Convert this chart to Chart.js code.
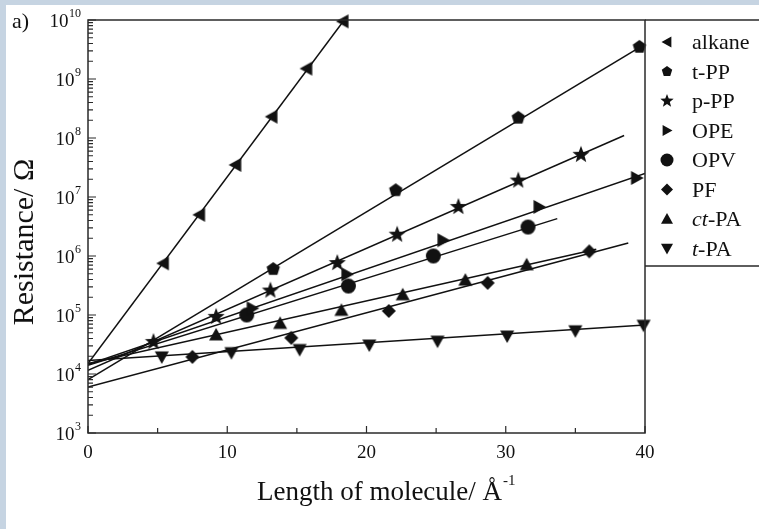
<!DOCTYPE html>
<html>
<head>
<meta charset="utf-8">
<script src="https://cdn.jsdelivr.net/npm/chart.js@4.4.1/dist/chart.umd.min.js"></script>
<style>
  html, body { margin: 0; padding: 0; background: #c6d4e2; }
  #wrap { position: relative; width: 759px; height: 529px; }
</style>
</head>
<body>
<div id="wrap"><canvas id="chart" width="759" height="529"></canvas></div>
<script>
// Values (length in Å, resistance in Ω)
const seriesNames = ['alkane', 't-PP', 'p-PP', 'OPE', 'OPV', 'PF', 'ct-PA', 't-PA'];
const italicPrefix = [false, false, false, false, false, false, true, true];

const alkaneX = [5.4, 8.0, 10.6, 13.2, 15.7, 18.3];
const alkaneR = [7.5e5, 5.0e6, 3.5e7, 2.3e8, 1.5e9, 9.5e9];
const tppX = [13.3, 22.1, 30.9, 39.6];
const tppR = [6.0e5, 1.3e7, 2.2e8, 3.5e9];
const pppX = [4.7, 9.2, 13.1, 17.9, 22.2, 26.6, 30.9, 35.4];
const pppR = [3.5e4, 9.3e4, 2.6e5, 7.6e5, 2.3e6, 6.8e6, 1.9e7, 5.2e7];
const opeX = [11.8, 18.6, 25.5, 32.4, 39.4];
const opeR = [1.3e5, 4.9e5, 1.85e6, 6.8e6, 2.1e7];
const opvX = [11.4, 18.7, 24.8, 31.6];
const opvR = [1.0e5, 3.1e5, 1.0e6, 3.1e6];
const pfX = [7.5, 14.6, 21.6, 28.7, 36.0];
const pfR = [1.95e4, 4.1e4, 1.17e5, 3.5e5, 1.2e6];
const ctpaX = [9.2, 13.8, 18.2, 22.6, 27.1, 31.5];
const ctpaR = [4.6e4, 7.2e4, 1.2e5, 2.2e5, 3.9e5, 7.1e5];
const tpaX = [5.3, 10.3, 15.2, 20.2, 25.1, 30.1, 35.0, 39.9];
const tpaR = [1.95e4, 2.3e4, 2.6e4, 3.1e4, 3.6e4, 4.4e4, 5.4e4, 6.7e4];

// fitted lines: [x start, R start, x end, R end]
const alkaneFit = [0, 1.5e4, 18.4, 1.0e10];
const tppFit = [0, 8.0e3, 40, 3.9e9];
const pppFit = [0, 1.15e4, 38.5, 1.1e8];
const opeFit = [0, 1.45e4, 40, 2.5e7];
const opvFit = [0, 1.4e4, 33.7, 4.3e6];
const pfFit = [0, 6.0e3, 38.8, 1.66e6];
const ctpaFit = [0, 1.5e4, 36.5, 1.3e6];
const tpaFit = [0, 1.7e4, 40, 6.8e4];

const xTicks = [0, 10, 20, 30, 40];
const yExponents = [3, 4, 5, 6, 7, 8, 9, 10];

const seriesX = [alkaneX, tppX, pppX, opeX, opvX, pfX, ctpaX, tpaX];
const seriesR = [alkaneR, tppR, pppR, opeR, opvR, pfR, ctpaR, tpaR];
const fits = [alkaneFit, tppFit, pppFit, opeFit, opvFit, pfFit, ctpaFit, tpaFit];

const ink = '#111111';
const serif = '"Liberation Serif", "Times New Roman", serif';
const kinds = ['left', 'pentagon', 'star', 'right', 'circle', 'diamond', 'up', 'down'];
const plotR = [7, 7, 9, 7, 7.5, 7, 7, 7];
const legendR = [5.5, 5.5, 7, 5.5, 6.5, 6, 6, 6];

function shapePath(g, kind, cx, cy, r) {
    g.beginPath();
    if (kind === 'circle') {
        g.arc(cx, cy, r, 0, Math.PI * 2);
    } else if (kind === 'left') {
        g.moveTo(cx - r, cy); g.lineTo(cx + r * 0.8, cy - r); g.lineTo(cx + r * 0.8, cy + r);
    } else if (kind === 'right') {
        g.moveTo(cx + r, cy); g.lineTo(cx - r * 0.8, cy - r); g.lineTo(cx - r * 0.8, cy + r);
    } else if (kind === 'up') {
        g.moveTo(cx, cy - r); g.lineTo(cx + r, cy + r * 0.8); g.lineTo(cx - r, cy + r * 0.8);
    } else if (kind === 'down') {
        g.moveTo(cx, cy + r); g.lineTo(cx + r, cy - r * 0.8); g.lineTo(cx - r, cy - r * 0.8);
    } else if (kind === 'diamond') {
        g.moveTo(cx, cy - r); g.lineTo(cx + r, cy); g.lineTo(cx, cy + r); g.lineTo(cx - r, cy);
    } else if (kind === 'pentagon') {
        for (let i = 0; i < 5; i++) {
            const a = -Math.PI / 2 + i * Math.PI * 2 / 5;
            g.lineTo(cx + r * Math.cos(a), cy + r * Math.sin(a));
        }
    } else if (kind === 'star') {
        for (let i = 0; i < 10; i++) {
            const a = -Math.PI / 2 + i * Math.PI / 5;
            const rr = i % 2 ? r * 0.42 : r;
            g.lineTo(cx + rr * Math.cos(a), cy + rr * Math.sin(a));
        }
    }
    g.closePath();
    g.fill();
}

function markerImage(kind, r) {
    const c = document.createElement('canvas');
    const s = Math.ceil(2 * r + 2);
    c.width = c.height = s;
    const g = c.getContext('2d');
    g.fillStyle = ink;
    shapePath(g, kind, s / 2, s / 2, r);
    return c;
}

const datasets = [];
seriesNames.forEach((name, i) => {
    const f = fits[i];
    datasets.push({
        label: name + ' fit',
        data: [{ x: f[0], y: f[1] }, { x: f[2], y: f[3] }],
        showLine: true, borderColor: ink, borderWidth: 1.5,
        pointRadius: 0, order: 2
    });
    datasets.push({
        label: name,
        data: seriesX[i].map((x, j) => ({ x: x, y: seriesR[i][j] })),
        pointStyle: markerImage(kinds[i], plotR[i]),
        pointRadius: plotR[i], showLine: false, clip: false, order: 1
    });
});

const frame = {
    id: 'frame',
    beforeDraw(chart) {
        const c = chart.ctx;
        c.save();
        c.fillStyle = '#c6d4e2';
        c.fillRect(0, 0, chart.width, chart.height);
        c.fillStyle = '#ffffff';
        c.fillRect(6, 5, chart.width - 6, chart.height - 5);
        c.restore();
    },
    afterDraw(chart) {
        const c = chart.ctx, a = chart.chartArea;
        const xs = chart.scales.x, ys = chart.scales.y;
        c.save();
        c.strokeStyle = '#2a2a2a';
        c.lineWidth = 1.5;
        c.strokeRect(a.left, a.top, a.right - a.left, a.bottom - a.top);

        // inward ticks
        c.lineWidth = 1.2;
        c.beginPath();
        xTicks.forEach((v, k) => {
            const px = xs.getPixelForValue(v);
            c.moveTo(px, a.bottom); c.lineTo(px, a.bottom - 7);
            if (k < xTicks.length - 1) {
                const pm = xs.getPixelForValue((v + xTicks[k + 1]) / 2);
                c.moveTo(pm, a.bottom); c.lineTo(pm, a.bottom - 5);
            }
        });
        yExponents.forEach((e, k) => {
            const py = ys.getPixelForValue(Math.pow(10, e));
            c.moveTo(a.left, py); c.lineTo(a.left + 8, py);
            if (k < yExponents.length - 1) {
                for (let m = 2; m < 10; m++) {
                    const pm = ys.getPixelForValue(m * Math.pow(10, e));
                    c.moveTo(a.left, pm); c.lineTo(a.left + 5, pm);
                }
            }
        });
        c.stroke();

        // y tick labels 10^n
        c.fillStyle = ink;
        c.textBaseline = 'alphabetic';
        yExponents.forEach(e => {
            const py = ys.getPixelForValue(Math.pow(10, e));
            c.font = '12px ' + serif;
            const ew = c.measureText(String(e)).width;
            c.textAlign = 'left';
            c.fillText(String(e), a.left - 7 - ew, py - 3);
            c.font = '19px ' + serif;
            c.textAlign = 'right';
            c.fillText('10', a.left - 7 - ew - 0.5, py + 6.5);
        });

        // axis titles
        c.textAlign = 'left';
        c.font = '27px ' + serif;
        const main = 'Length of molecule/ Å';
        const mw = c.measureText(main).width;
        const tx = 386 - (mw + 13) / 2;
        c.fillText(main, tx, 500);
        c.font = '15px ' + serif;
        c.fillText('-1', tx + mw + 1, 485);

        c.save();
        c.translate(33, 242);
        c.rotate(-Math.PI / 2);
        c.font = '30px ' + serif;
        c.textAlign = 'center';
        c.fillText('Resistance/ Ω', 0, 0);
        c.restore();

        c.font = '22px ' + serif;
        c.textAlign = 'left';
        c.fillText('a)', 12, 28);

        // legend box
        c.strokeStyle = '#2a2a2a';
        c.lineWidth = 1.5;
        c.beginPath();
        c.moveTo(a.right, a.top); c.lineTo(chart.width, a.top);
        c.moveTo(a.right, 266); c.lineTo(chart.width, 266);
        c.stroke();
        seriesNames.forEach((name, i) => {
            const ly = 42 + i * 29.5;
            c.fillStyle = ink;
            shapePath(c, kinds[i], 667, ly, legendR[i]);
            let x = 692;
            const by = ly + 7;
            if (italicPrefix[i]) {
                const cut = name.indexOf('-');
                c.font = 'italic 22px ' + serif;
                const pre = name.slice(0, cut);
                c.fillText(pre, x, by);
                x += c.measureText(pre).width;
                c.font = '22px ' + serif;
                c.fillText(name.slice(cut), x, by);
            } else {
                c.font = '22px ' + serif;
                c.fillText(name, x, by);
            }
        });
        c.restore();
    }
};

new Chart(document.getElementById('chart'), {
    type: 'scatter',
    data: { datasets: datasets },
    options: {
        responsive: false,
        animation: false,
        layout: { padding: { top: 20, right: 114, left: 0, bottom: 0 } },
        plugins: { legend: { display: false }, tooltip: { enabled: false } },
        scales: {
            x: {
                type: 'linear', min: 0, max: 40,
                afterBuildTicks: s => { s.ticks = xTicks.map(v => ({ value: v })); },
                ticks: { font: { family: serif, size: 19 }, color: ink, padding: 9, maxRotation: 0 },
                grid: { display: false, drawTicks: false },
                border: { display: false },
                afterFit: s => { s.height = 96; }
            },
            y: {
                type: 'logarithmic', min: 1e3, max: 1e10,
                afterBuildTicks: s => { s.ticks = yExponents.map(e => ({ value: Math.pow(10, e) })); },
                ticks: { display: false },
                grid: { display: false, drawTicks: false },
                border: { display: false },
                afterFit: s => { s.width = 88; }
            }
        }
    },
    plugins: [frame]
});
</script>
</body>
</html>
